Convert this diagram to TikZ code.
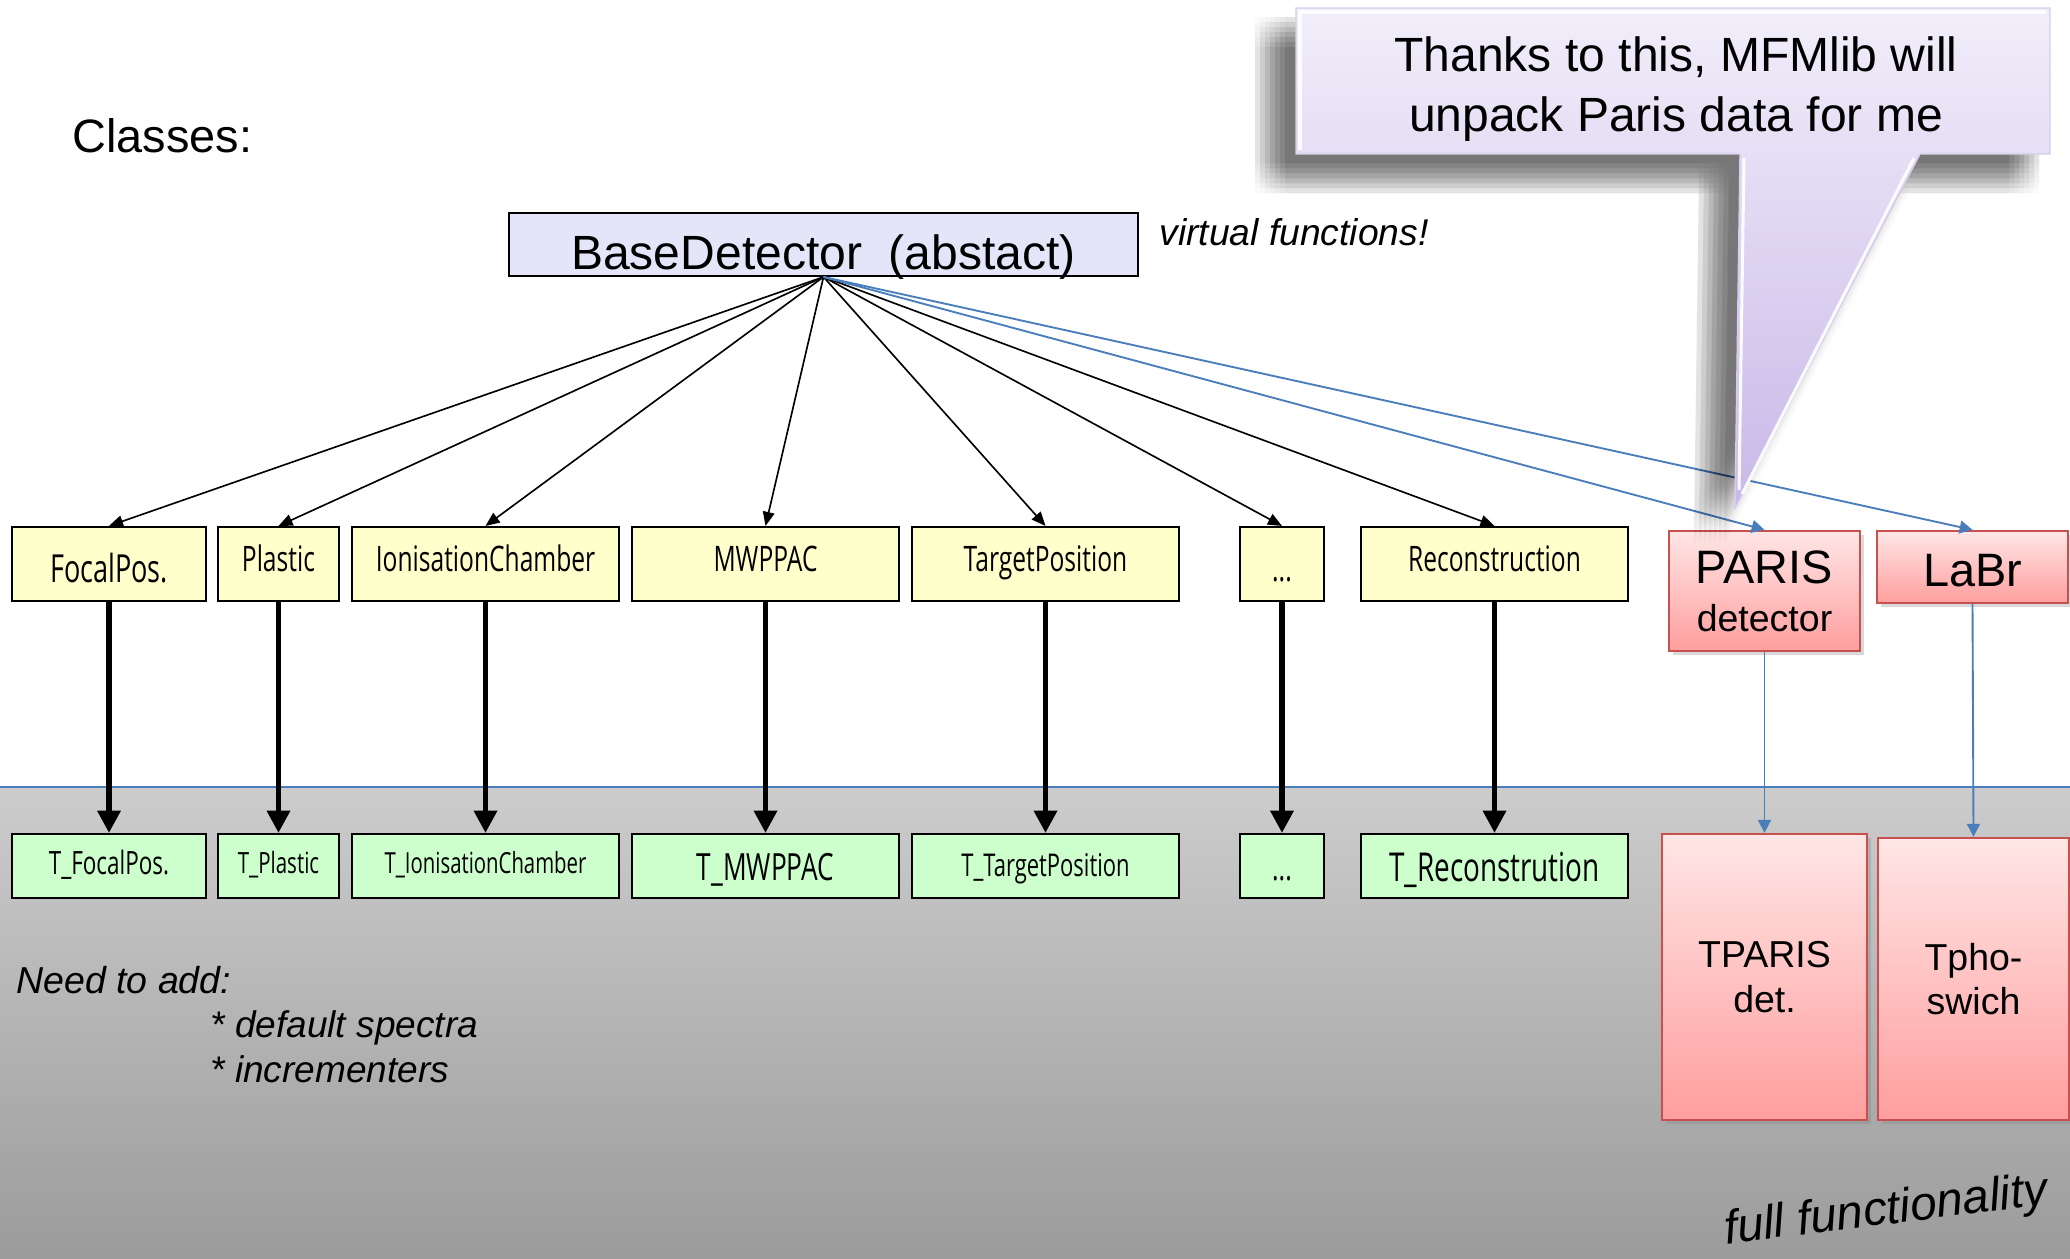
\documentclass[tikz,border=0pt]{standalone}
\usepackage{fontspec}
\setmainfont{Liberation Sans}
\newfontfamily\condfont[FakeStretch=0.7]{Open Sans}
\usepackage{tikz}
\usetikzlibrary{arrows.meta}
\usetikzlibrary{positioning}
\usetikzlibrary{shadows}

\definecolor{classYellow}{RGB}{255,255,204}
\definecolor{classGreen}{RGB}{204,255,204}
\definecolor{baseFill}{RGB}{229,229,250}
\definecolor{parisTop}{RGB}{255,230,230}
\definecolor{parisBottom}{RGB}{255,158,158}
\definecolor{parisEdge}{RGB}{200,80,78}
\definecolor{lineBlue}{RGB}{74,126,187}
\definecolor{calloutTop}{RGB}{242,238,250}
\definecolor{calloutBottom}{RGB}{200,184,232}
\definecolor{calloutEdge}{RGB}{214,204,236}

\newcommand{\cond}[1]{\condfont\fontsize{#1}{#1}\selectfont}
\newcommand{\arial}[2]{\fontsize{#1}{#2}\selectfont}
% speech bubble outline, in pixel units
\newcommand{\calloutPath}[1]{\path[#1] (1296,8) -- (2050,8) -- (2050,154) -- (1920,154)
  -- (1735,508) -- (1740,154) -- (1296,154) -- cycle;}

\tikzset{
  classBox/.style 2 args={
    draw=black, line width=0.9pt, inner sep=0pt,
    minimum width=#1*0.015cm, minimum height=#2*0.015cm
  },
  % font size, drop of the baseline below the centre (pt)
  classFont/.style 2 args={
    font=\cond{#1}, text depth=0.25*#1pt, text height=0.25*#1pt+2*#2pt
  },
  yellowBox/.style 2 args={classBox={#1}{#2}, fill=classYellow},
  greenBox/.style 2 args={classBox={#1}{#2}, fill=classGreen},
  parisBox/.style 2 args={
    draw=parisEdge, line width=1pt, inner sep=0pt, align=center,
    minimum width=#1*0.015cm, minimum height=#2*0.015cm,
    top color=parisTop, bottom color=parisBottom,
    drop shadow={opacity=0.3, shadow xshift=1.5pt, shadow yshift=-1.5pt}
  },
  inheritArrow/.style={-{Triangle[length=6pt,width=5pt]}, line width=0.7pt},
  implArrow/.style={-{Triangle[length=9.5pt,width=9.5pt]}, line width=2.3pt},
  parisArrow/.style={-{Triangle[length=5.5pt,width=5.5pt]}, color=lineBlue, line width=0.8pt}
}

\begin{document}
\begin{tikzpicture}[x=0.015cm, y=-0.015cm,
  plainText/.style={inner sep=0pt, anchor=base west}
]
\useasboundingbox (0,0) rectangle (2070,1259);

% grey "implementation" band
\fill[top color=gray!40, bottom color=gray!78] (0,787) rectangle (2070,1259);
\draw[lineBlue, line width=1pt] (0,787) -- (2070,787);

\node[plainText, font=\arial{20}{24}] (classes) at (72,152) {Classes:};

\node[draw=black, line width=0.8pt, fill=baseFill, inner sep=0pt,
  minimum width=629*0.015cm, minimum height=63*0.015cm,
  text height=24pt, text depth=2.5pt, font=\arial{20.5}{24}]
  (base) at (823.5,244.5) {BaseDetector\ \ (abstact)};
\node[plainText, font=\itshape\arial{15.9}{18}] (virt) at (1159,245) {virtual functions!};

% --- classes ---
\node[yellowBox={194}{74}, classFont={16.5}{7.7}] (focal) at (109,564) {FocalPos.};
\node[yellowBox={121}{74}, classFont={15}{3.4}] (plastic) at (278.5,564) {Plastic};
\node[yellowBox={267}{74}, classFont={15}{3.4}] (ionis) at (485.5,564) {IonisationChamber};
\node[yellowBox={267}{74}, classFont={15}{3.4}] (mwppac) at (765.5,564) {MWPPAC};
\node[yellowBox={267}{74}, classFont={15}{3.4}] (target) at (1045.5,564) {TargetPosition};
\node[yellowBox={84}{74}, classFont={15}{7.3}] (dots) at (1282,564) {...};
\node[yellowBox={267}{74}, classFont={15}{3.4}] (recon) at (1494.5,564) {Reconstruction};

% --- T_ classes ---
\node[greenBox={194}{64}, classFont={13.7}{3.8}] (Tfocal) at (109,866) {T\_FocalPos.};
\node[greenBox={121}{64}, classFont={12.5}{3}] (Tplastic) at (278.5,866) {T\_Plastic};
\node[greenBox={267}{64}, classFont={12.4}{3}] (Tionis) at (485.5,866) {T\_IonisationChamber};
\node[greenBox={267}{64}, classFont={16}{6}] (Tmwppac) at (765.5,866) {T\_MWPPAC};
\node[greenBox={267}{64}, classFont={13.4}{4.3}] (Ttarget) at (1045.5,866) {T\_TargetPosition};
\node[greenBox={84}{64}, classFont={15}{6}] (Tdots) at (1282,866) {...};
\node[greenBox={267}{64}, classFont={17}{6.8}] (Trecon) at (1494.5,866) {T\_Reconstrution};

% --- PARIS ---
\node[parisBox={191}{120}, font=\arial{20}{20.5}] (paris) at (1764.5,591)
  {PARIS\\\arial{16}{20.5}detector};
\node[parisBox={191}{72}, font=\arial{20}{24}, text depth=5pt, text height=22pt] (labr) at (1972.5,567) {LaBr};
\node[parisBox={205}{286}, font=\arial{16}{19}] (tparis) at (1764.5,977) {TPARIS\\det.};
\node[parisBox={191}{282}, font=\arial{16}{19}] (tphos) at (1973.5,979) {Tpho-\\swich};

\foreach \n in {focal,plastic,ionis,mwppac,target,dots,recon} {
  \draw[inheritArrow] (base.south) -- (\n.north);
  \draw[implArrow] (\n.south) -- (T\n.north);
}
\draw[parisArrow] (base.south) -- (paris.north);
\draw[parisArrow] (base.south) -- (labr.north);
\draw[parisArrow] (paris.south) -- (tparis.north);
\draw[parisArrow] (labr.south) -- (tphos.north);

\node[plainText, font=\itshape\arial{16}{19}] (need) at (16,993) {Need to add:};
\node[inner sep=0pt, anchor=north west, align=left, font=\itshape\arial{15.8}{19.2}]
  (todo) at (210,1010) {* default spectra\\* incrementers};

\node[inner sep=0pt, rotate=7, font=\itshape\arial{20.3}{24}] (full) at (1886,1212) {full functionality};

% --- speech bubble ---
\foreach \dx in {-15,-10,-5,0,5,10,15} {
  \foreach \dy in {-15,-10,-5,0,5,10,15} {
    \calloutPath{fill=black, opacity=0.014, xshift={(\dx-26)*0.015cm}, yshift={-(\dy+24)*0.015cm}}
  }
}
\calloutPath{top color=calloutTop, bottom color=calloutBottom, draw=calloutEdge, line width=0.6pt}
\draw[white, line width=1.3pt, opacity=0.9] (1300,150) -- (1300,12) -- (2046,12);
\draw[white, line width=1.3pt, opacity=0.9] (1744,158) -- (1739,490);
\draw[white, line width=1.3pt, opacity=0.9] (1914,158) -- (1742,494);
\node[inner sep=0pt, align=center, font=\arial{20.5}{25.6}] (bubble) at (1676,89)
  {Thanks to this, MFMlib will\\unpack Paris data for me};

\end{tikzpicture}
\end{document}
